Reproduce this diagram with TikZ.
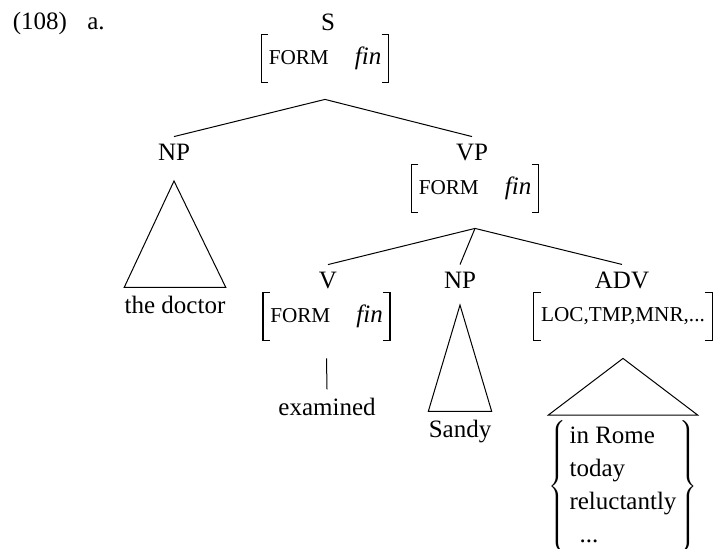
\documentclass[tikz,border=0pt]{standalone}
\usepackage{fontspec}
\setmainfont{Liberation Serif}

\newcommand{\fsc}[1]{{\fontsize{10.6}{12}\selectfont #1}}
\newcommand{\brackets}[1]{%
  \draw[brk] ([xshift=3.5pt]#1.north west) -| (#1.south west) -- ++(3.5pt,0);
  \draw[brk] ([xshift=-3.5pt]#1.north east) -| (#1.south east) -- ++(-3.5pt,0);}

\tikzset{
  lbl/.style={anchor=base},
  feat/.style={minimum height=23.5pt, inner xsep=3.5pt, inner ysep=0pt},
  leaf/.style={anchor=base, inner xsep=0pt, inner ysep=4pt},
  brk/.style={line width=0.75pt},
  branch/.style={line width=0.5pt}
}

\begin{document}
\begin{tikzpicture}[x=0.5pt, y=-0.5pt, font=\fontsize{12.5}{16.5}\selectfont]
\useasboundingbox (0,0) rectangle (717,548);

%Example number
\node[lbl] (num) at (40,29) {(108)};
\node[lbl] (sub) at (96,29) {a.};

%Root
\node[lbl] (s) at (328,30) {S};
\node[feat] (s-f) at (325,58.5) {\fsc{FORM}\hspace{13pt}\textit{fin}};
\brackets{s-f}
\coordinate (s-top) at ([yshift=-8.5pt]s-f.south);

%Subject
\node[lbl] (np1) at (174,160) {NP};
\coordinate (np1-top) at ([yshift=-10.5pt]np1.base);
\node[leaf] (dr) at (175,313) {the doctor};
\draw[branch] (np1-top) -- (dr.north west) -- (dr.north east) -- cycle;

%Verb phrase
\node[lbl] (vp) at (472,160) {VP};
\node[feat] (vp-f) at (475,188.5) {\fsc{FORM}\hspace{13pt}\textit{fin}};
\brackets{vp-f}
\coordinate (vp-top) at ([yshift=-8pt]vp-f.south);

\draw[branch] (np1.north) -- (s-top) -- (vp.north);

%Verb
\node[lbl] (v) at (328,288) {V};
\node[feat] (v-f) at (326.5,316.5) {\fsc{FORM}\hspace{13pt}\textit{fin}};
\brackets{v-f}
\node[leaf] (exm) at (327,415) {examined};
\draw[branch] ([yshift=-9pt]v-f.south) -- (exm.north);

%Object
\node[lbl] (np2) at (460,288) {NP};
\coordinate (np2-top) at ([yshift=-8.5pt]np2.base);
\node[leaf] (sandy) at (460,437) {Sandy};
\draw[branch] (np2-top) -- (sandy.north west) -- (sandy.north east) -- cycle;

%Adverbial
\node[lbl] (adv) at (622,288) {ADV};
\node[feat] (adv-f) at (623,316.5) {\fsc{LOC,TMP,MNR,...}};
\brackets{adv-f}
\coordinate (adv-top) at ([yshift=-9pt]adv-f.south);
\node[anchor=north, inner xsep=0pt, inner ysep=2.5pt] (lst) at (623,415)
  {$\left\{\begin{tabular}{@{\hspace{1.5pt}}l@{\hspace{1.5pt}}}in Rome\\ today\\ reluctantly\\ \hspace{5pt}...\end{tabular}\right\}$};
\draw[branch] (adv-top) -- (lst.north west) -- (lst.north east) -- cycle;

\draw[branch] (v.north) -- (vp-top) -- (adv.north);
\draw[branch] (vp-top) -- (np2.north);
\end{tikzpicture}
\end{document}
